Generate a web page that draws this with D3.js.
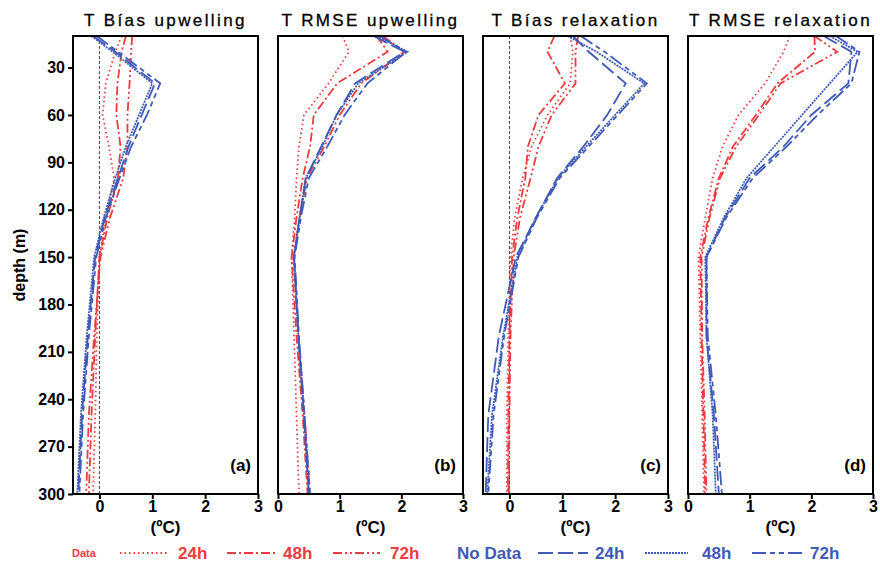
<!DOCTYPE html>
<html>
<head>
<meta charset="utf-8">
<script src="https://cdn.jsdelivr.net/npm/d3@7"></script>
<style>
  body { margin: 0; background: #fff; }
  text { font-family: "Liberation Sans", Arial, sans-serif; }
</style>
</head>
<body>
<script>
// depth levels (m) shared by every profile
const depths = [10, 20, 40, 60, 80, 100, 125, 150, 200, 250, 300];

// series order inside each panel array: 24h, 48h, 72h
const biasUpRed = [
  [0.42, 0.30, 0.12, 0.06, 0.18, 0.28, 0.12, 0.00, -0.05, -0.08, -0.12],
  [0.50, 0.42, 0.34, 0.32, 0.40, 0.35, 0.15, 0.00, -0.08, -0.15, -0.20],
  [0.62, 0.60, 0.57, 0.53, 0.53, 0.45, 0.20, 0.02, -0.10, -0.20, -0.25]
];
const biasUpBlue = [
  [-0.12, 0.30, 1.05, 0.80, 0.55, 0.35, 0.10, -0.08, -0.22, -0.33, -0.40],
  [-0.15, 0.25, 1.00, 0.75, 0.50, 0.30, 0.08, -0.10, -0.24, -0.35, -0.42],
  [-0.05, 0.35, 1.15, 0.90, 0.60, 0.38, 0.12, -0.06, -0.20, -0.31, -0.38]
];
const rmseUpRed = [
  [1.05, 1.15, 0.82, 0.42, 0.34, 0.30, 0.27, 0.22, 0.26, 0.30, 0.34],
  [1.60, 1.78, 0.96, 0.58, 0.52, 0.40, 0.30, 0.22, 0.30, 0.40, 0.48],
  [1.70, 2.05, 1.35, 1.00, 0.75, 0.47, 0.35, 0.25, 0.33, 0.43, 0.52]
];
const rmseUpBlue = [
  [1.55, 2.05, 1.25, 0.95, 0.70, 0.45, 0.35, 0.26, 0.33, 0.42, 0.50],
  [1.60, 2.10, 1.30, 0.95, 0.72, 0.45, 0.35, 0.26, 0.33, 0.42, 0.50],
  [1.65, 2.08, 1.45, 1.08, 0.80, 0.50, 0.37, 0.27, 0.34, 0.43, 0.52]
];
const biasRelRed = [
  [1.15, 1.20, 1.15, 0.72, 0.42, 0.25, 0.10, 0.02, -0.02, -0.05, -0.05],
  [0.85, 0.72, 1.05, 0.55, 0.35, 0.30, 0.15, 0.05, 0.00, -0.02, -0.03],
  [1.30, 1.25, 1.25, 0.80, 0.55, 0.40, 0.20, 0.08, 0.02, 0.00, -0.01]
];
const biasRelBlue = [
  [1.20, 1.50, 2.20, 1.85, 1.40, 0.90, 0.50, 0.12, -0.20, -0.40, -0.45],
  [1.10, 1.65, 2.55, 2.00, 1.45, 0.92, 0.50, 0.15, -0.12, -0.33, -0.42],
  [1.35, 1.80, 2.60, 2.05, 1.50, 0.95, 0.52, 0.17, -0.10, -0.30, -0.40]
];
const rmseRelRed = [
  [1.65, 1.55, 1.25, 0.82, 0.56, 0.40, 0.28, 0.17, 0.20, 0.23, 0.26],
  [2.05, 2.06, 1.45, 1.10, 0.73, 0.50, 0.33, 0.20, 0.22, 0.25, 0.28],
  [2.05, 2.42, 1.50, 1.15, 0.78, 0.52, 0.35, 0.22, 0.23, 0.27, 0.30]
];
const rmseRelBlue = [
  [2.20, 2.65, 2.60, 2.00, 1.55, 1.00, 0.60, 0.30, 0.30, 0.42, 0.50],
  [2.30, 2.75, 2.30, 1.85, 1.40, 0.95, 0.58, 0.28, 0.30, 0.40, 0.45],
  [2.40, 2.78, 2.65, 2.10, 1.60, 1.05, 0.62, 0.30, 0.32, 0.45, 0.55]
];

const titles = ["T Bías upwelling", "T RMSE upwelling", "T Bías relaxation", "T RMSE relaxation"];
const panelTags = ["(a)", "(b)", "(c)", "(d)"];
const depthTicks = [30, 60, 90, 120, 150, 180, 210, 240, 270, 300];
const tempTicks = [0, 1, 2, 3];
const leadTimes = ["24h", "48h", "72h"];

const RED = "#ee3b3f";
const BLUE = "#3e5ab6";
const redDash = ["1.5,3", "9,3,2,3", "9,3,2,3,2,3"];
const blueDash = ["15,5", "2,1", "14,4,5,4,5,4"];

const width = 880, height = 562;
const plotTop = 36, plotBottom = 494;
const panelW = 185;
const panelX = [73, 278, 483, 688];
const xDomains = [[-0.5, 3], [0, 3], [-0.5, 3], [0, 3]];
const panels = [
  [biasUpRed, biasUpBlue], [rmseUpRed, rmseUpBlue],
  [biasRelRed, biasRelBlue], [rmseRelRed, rmseRelBlue]
];

const svg = d3.select("body").append("svg")
  .attr("width", width).attr("height", height);

const y = d3.scaleLinear().domain([10, 300]).range([plotTop, plotBottom]);

panels.forEach((p, i) => {
  const x = d3.scaleLinear().domain(xDomains[i]).range([panelX[i], panelX[i] + panelW]);
  const g = svg.append("g");

  // zero reference line in the bias panels
  if (xDomains[i][0] < 0) {
    g.append("line")
      .attr("x1", x(0)).attr("x2", x(0))
      .attr("y1", plotTop).attr("y2", plotBottom)
      .attr("stroke", "#444").attr("stroke-width", 1)
      .attr("stroke-dasharray", "3,2");
  }

  const line = d3.line()
    .x(d => x(d[1]))
    .y(d => y(d[0]));

  const clipId = "clip" + i;
  svg.append("clipPath").attr("id", clipId)
    .append("rect").attr("x", panelX[i]).attr("y", plotTop)
    .attr("width", panelW).attr("height", plotBottom - plotTop);

  [[p[0], RED, redDash], [p[1], BLUE, blueDash]].forEach(([series, col, dashes]) => {
    series.forEach((vals, k) => {
      g.append("path")
        .datum(depths.map((dep, j) => [dep, vals[j]]))
        .attr("d", line)
        .attr("fill", "none")
        .attr("stroke", col)
        .attr("stroke-width", 1.8)
        .attr("stroke-dasharray", dashes[k])
        .attr("clip-path", `url(#${clipId})`);
    });
  });

  // frame
  g.append("rect")
    .attr("x", panelX[i]).attr("y", plotTop)
    .attr("width", panelW).attr("height", plotBottom - plotTop)
    .attr("fill", "none").attr("stroke", "#000").attr("stroke-width", 2);

  // x axis
  const xAxis = g.append("g")
    .attr("transform", `translate(0,${plotBottom})`)
    .call(d3.axisBottom(x).tickValues(tempTicks).tickSize(5).tickPadding(2).tickFormat(d3.format("d")));
  xAxis.select(".domain").remove();
  xAxis.selectAll("line").attr("stroke-width", 2);
  xAxis.selectAll("text").attr("font-size", 16).attr("font-weight", "bold").attr("fill", "#000");

  if (i === 0) {
    const yAxis = g.append("g")
      .attr("transform", `translate(${panelX[i]},0)`)
      .call(d3.axisLeft(y).tickValues(depthTicks).tickSize(5).tickPadding(3));
    yAxis.select(".domain").remove();
    yAxis.selectAll("line").attr("stroke-width", 2);
    yAxis.selectAll("text").attr("font-size", 16).attr("font-weight", "bold").attr("fill", "#000");
  }

  g.append("text")
    .attr("x", panelX[i] + panelW / 2).attr("y", 26)
    .attr("text-anchor", "middle")
    .attr("font-size", 17).attr("letter-spacing", 2.4)
    .attr("stroke", "#000").attr("stroke-width", 0.3)
    .text(titles[i]);

  g.append("text")
    .attr("x", panelX[i] + panelW - 7).attr("y", 471)
    .attr("text-anchor", "end")
    .attr("font-size", 17).attr("font-weight", "bold")
    .text(panelTags[i]);

  g.append("text")
    .attr("x", panelX[i] + panelW / 2).attr("y", 533)
    .attr("text-anchor", "middle")
    .attr("font-size", 17).attr("font-weight", "bold")
    .text("(ºC)");
});

svg.append("text")
  .attr("transform", "translate(25,265) rotate(-90)")
  .attr("text-anchor", "middle")
  .attr("font-size", 16).attr("font-weight", "bold")
  .text("depth (m)");

// legend
const legY = 553;
svg.append("text").attr("x", 72).attr("y", legY + 4)
  .attr("fill", RED).attr("font-size", 11).attr("font-weight", "bold").text("Data");
svg.append("text").attr("x", 457).attr("y", legY + 6)
  .attr("fill", BLUE).attr("font-size", 17).attr("font-weight", "bold").text("No Data");

const redLeg = [[120, 167, 178], [227, 275, 283], [333, 380, 390]];
const blueLeg = [[538, 588, 595], [645, 688, 702], [752, 803, 810]];
[[redLeg, RED, redDash], [blueLeg, BLUE, blueDash]].forEach(([pos, col, dashes]) => {
  pos.forEach((p, k) => {
    svg.append("line")
      .attr("x1", p[0]).attr("x2", p[1]).attr("y1", legY).attr("y2", legY)
      .attr("stroke", col).attr("stroke-width", 2)
      .attr("stroke-dasharray", dashes[k]);
    svg.append("text").attr("x", p[2]).attr("y", legY + 6)
      .attr("fill", col).attr("font-size", 17).attr("font-weight", "bold")
      .text(leadTimes[k]);
  });
});
</script>
</body>
</html>
